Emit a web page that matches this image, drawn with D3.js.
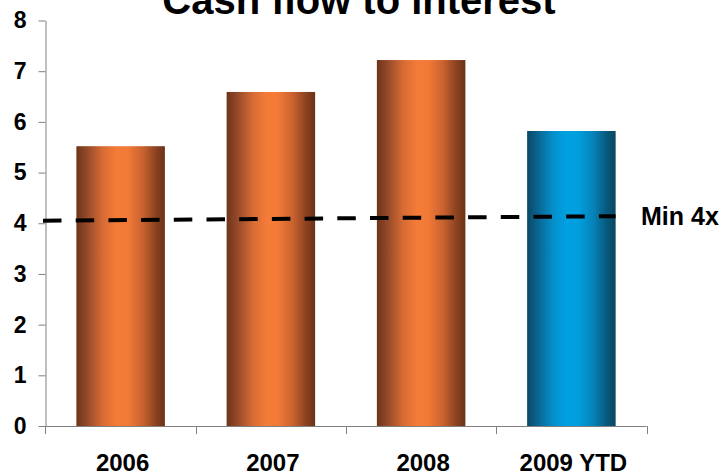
<!DOCTYPE html>
<html>
<head>
<meta charset="utf-8">
<script src="https://cdn.jsdelivr.net/npm/d3@7"></script>
<style>
  html, body { margin: 0; padding: 0; background: #fff; }
  svg { display: block; font-family: "Liberation Sans", Arial, sans-serif; }
</style>
</head>
<body>
<svg id="chart" width="726" height="473"></svg>
<script>
// Cash flow to interest coverage by year
const categories = ["2006", "2007", "2008", "2009 YTD"];
const coverage = [5.52, 6.59, 7.22, 5.82];
const barKind = ["actual", "actual", "actual", "ytd"];
const yTicks = [0, 1, 2, 3, 4, 5, 6, 7, 8];
// Minimum covenant line, value at its left and right ends
const minLineEnds = [4.05, 4.14];
const minLabel = "Min 4x";
const title = "Cash flow to interest";

const svg = d3.select("#chart");
const defs = svg.append("defs");

// Cylinder-style horizontal shading for the bars
function cylinder(id, stops) {
  const g = defs.append("linearGradient").attr("id", id)
    .attr("x1", "0%").attr("x2", "100%").attr("y1", "0%").attr("y2", "0%");
  stops.forEach(([o, c]) => g.append("stop").attr("offset", o).attr("stop-color", c));
}
cylinder("grad-actual", [
  ["0%", "#6e3417"], ["12%", "#94492a"], ["30%", "#d86c34"], ["45%", "#f47b38"],
  ["58%", "#f27a37"], ["75%", "#c9622f"], ["90%", "#8a4220"], ["100%", "#6a3216"]
]);
cylinder("grad-ytd", [
  ["0%", "#0a4864"], ["12%", "#0a6590"], ["30%", "#0490cc"], ["45%", "#00a1e1"],
  ["58%", "#019edd"], ["75%", "#0682b8"], ["90%", "#08587c"], ["100%", "#084660"]
]);

const x = d3.scaleBand().domain(categories).range([45.5, 646.5])
  .paddingInner(0.411).paddingOuter(0.2055);
const y = d3.scaleLinear().domain([0, 8]).range([426, 20.5]);

// Bars
svg.append("g").selectAll("rect").data(categories).join("rect")
  .attr("x", d => x(d))
  .attr("width", x.bandwidth())
  .attr("y", (d, i) => y(coverage[i]))
  .attr("height", (d, i) => y(0) - y(coverage[i]))
  .attr("fill", (d, i) => barKind[i] === "ytd" ? "url(#grad-ytd)" : "url(#grad-actual)");

// Y axis
const yAxis = svg.append("g")
  .attr("transform", "translate(45.5,0)")
  .call(d3.axisLeft(y).tickValues(yTicks).tickFormat(d3.format("d"))
    .tickSize(7).tickSizeOuter(0).tickPadding(12));
yAxis.select(".domain").attr("stroke", "#808080");
yAxis.selectAll(".tick line").attr("stroke", "#808080");
yAxis.selectAll(".tick text")
  .attr("fill", "#000").attr("font-size", 23).attr("font-weight", "bold")
  .attr("font-family", "Liberation Sans, Arial, sans-serif");

// Extend the value axis slightly below the category axis
svg.append("line")
  .attr("x1", 45.5).attr("x2", 45.5).attr("y1", y(0)).attr("y2", y(0) + 8)
  .attr("stroke", "#808080");

// Category axis with ticks at band boundaries
const xAxisG = svg.append("g");
xAxisG.append("line")
  .attr("x1", 45.5).attr("x2", x.range()[1]).attr("y1", y(0) + 0.5).attr("y2", y(0) + 0.5)
  .attr("stroke", "#808080");
const bounds = categories.map(c => x(c) + x.bandwidth() / 2 + x.step() / 2);
xAxisG.selectAll("line.tick").data(bounds).join("line").attr("class", "tick")
  .attr("x1", d => Math.round(d) + 0.5).attr("x2", d => Math.round(d) + 0.5)
  .attr("y1", y(0)).attr("y2", y(0) + 8)
  .attr("stroke", "#808080");
xAxisG.selectAll("text").data(categories).join("text")
  .attr("x", d => x(d) + x.bandwidth() / 2 + 2)
  .attr("y", 471)
  .attr("text-anchor", "middle")
  .attr("font-size", 24).attr("font-weight", "bold")
  .text(d => d);

// Minimum coverage dashed line
const lastCat = categories[categories.length - 1];
const lineX = [43, x(lastCat) + x.bandwidth()];
svg.append("line")
  .attr("x1", lineX[0]).attr("x2", lineX[1])
  .attr("y1", y(minLineEnds[0])).attr("y2", y(minLineEnds[1]))
  .attr("stroke", "#000").attr("stroke-width", 4)
  .attr("stroke-dasharray", "18.5 14.2");

svg.append("text")
  .attr("x", 641).attr("y", y(minLineEnds[1]))
  .attr("dy", "0.35em")
  .attr("font-size", 25).attr("font-weight", "bold")
  .text(minLabel);

// Title
svg.append("text")
  .attr("x", 359).attr("y", 14)
  .attr("text-anchor", "middle")
  .attr("font-size", 40).attr("font-weight", "bold")
  .text(title);
</script>
</body>
</html>
